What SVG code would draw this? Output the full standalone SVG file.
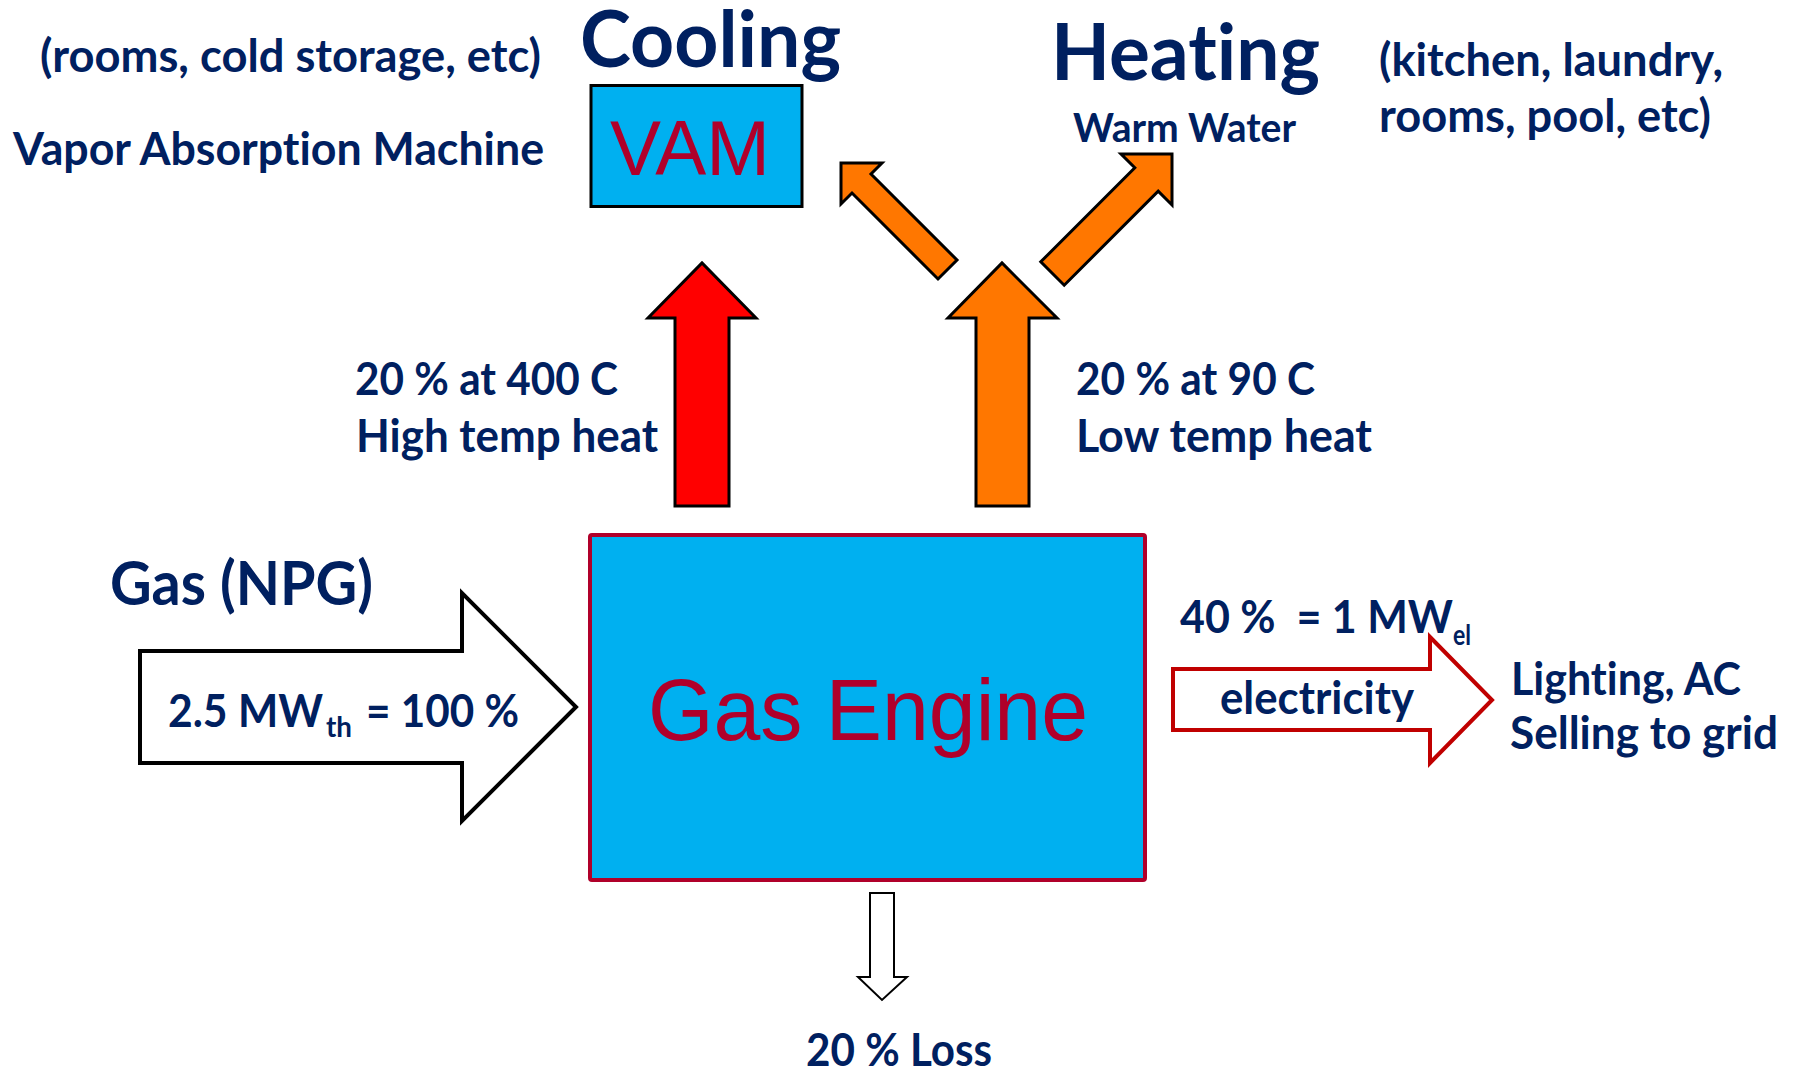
<svg xmlns="http://www.w3.org/2000/svg" width="1796" height="1072" viewBox="0 0 1796 1072">
<style>
.t{font-family:Lato,"Open Sans","Liberation Sans",sans-serif;font-weight:700;fill:#002060;font-variant-ligatures:none;font-feature-settings:"liga" 0,"clig" 0;}
.m{font-size:46px;}
.big{font-size:79px;}
.sub{font-size:29px;}
.red{font-family:"Liberation Sans",Arial,sans-serif;fill:#B0002A;}
.arr{stroke:#000;stroke-width:3;stroke-linejoin:miter;}
</style>
<rect width="1796" height="1072" fill="#fff"/>
<g id="connectors">
  <polygon id="high-temp-arrow" class="arr" fill="#FF0000" points="675,506 675,318 648,318 702,263 756,318 729,318 729,506"/>
  <polygon id="low-temp-arrow" class="arr" fill="#FF7700" points="976,506 976,318 948,318 1002,263 1057,318 1029,318 1029,506"/>
  <polygon id="to-cooling-arrow" class="arr" fill="#FF7700" points="841,163 882,163 871,174 957,260 938,279 852,193 841,204"/>
  <polygon id="to-heating-arrow" class="arr" fill="#FF7700" points="1172,154 1121,154 1134.8,167.8 1040.8,261.8 1064.2,285.2 1158.2,191.2 1172,205"/>
  <polygon id="gas-arrow" fill="#fff" stroke="#000" stroke-width="4" points="140,651 462,651 462,593 576,707 462,821 462,763 140,763"/>
  <polygon id="electricity-arrow" fill="#fff" stroke="#C00000" stroke-width="4" points="1173,669 1430,669 1430,637 1492,700 1430,763 1430,730 1173,730"/>
  <polygon id="loss-arrow" fill="#fff" stroke="#000" stroke-width="2" points="870,893 894,893 894,977 907,977 882,1000 858,977 870,977"/>
</g>
<g id="engine">
  <rect x="590" y="535" width="555" height="345" rx="2" fill="#00B0F0" stroke="#B0002A" stroke-width="4"/>
  <text class="red" x="648" y="740" font-size="87" textLength="440" lengthAdjust="spacingAndGlyphs">Gas Engine</text>
</g>
<g id="vam">
  <rect x="591" y="85.5" width="211" height="121" fill="#00B0F0" stroke="#000" stroke-width="3"/>
  <text class="red" x="610" y="175" font-size="77" textLength="160" lengthAdjust="spacingAndGlyphs">VAM</text>
</g>
<g id="cooling-labels">
  <text class="t big" x="580" y="67" textLength="261" lengthAdjust="spacingAndGlyphs">Cooling</text>
  <text class="t m" x="40" y="72" textLength="501" lengthAdjust="spacingAndGlyphs">(rooms, cold storage, etc)</text>
  <text class="t m" x="13" y="165" textLength="531" lengthAdjust="spacingAndGlyphs">Vapor Absorption Machine</text>
</g>
<g id="heating-labels">
  <text class="t big" x="1051" y="80" textLength="269" lengthAdjust="spacingAndGlyphs">Heating</text>
  <text class="t" x="1073" y="142" font-size="40" textLength="223" lengthAdjust="spacingAndGlyphs">Warm Water</text>
  <text class="t m" x="1379" y="76" textLength="344" lengthAdjust="spacingAndGlyphs">(kitchen, laundry,</text>
  <text class="t m" x="1379" y="132" textLength="332" lengthAdjust="spacingAndGlyphs">rooms, pool, etc)</text>
</g>
<g id="high-temp-label">
  <text class="t m" x="355" y="395" textLength="263" lengthAdjust="spacingAndGlyphs">20 % at 400 C</text>
  <text class="t m" x="356" y="452" textLength="302" lengthAdjust="spacingAndGlyphs">High temp heat</text>
</g>
<g id="low-temp-label">
  <text class="t m" x="1076" y="395" textLength="239" lengthAdjust="spacingAndGlyphs">20 % at 90 C</text>
  <text class="t m" x="1076" y="452" textLength="296" lengthAdjust="spacingAndGlyphs">Low temp heat</text>
</g>
<g id="gas-input">
  <text class="t" x="110" y="605" font-size="62" textLength="263" lengthAdjust="spacingAndGlyphs">Gas (NPG)</text>
  <text class="t m" x="168" y="727" textLength="155" lengthAdjust="spacingAndGlyphs">2.5 MW</text>
  <text class="t sub" x="326" y="737" textLength="26" lengthAdjust="spacingAndGlyphs">th</text>
  <text class="t m" x="366" y="727" textLength="153" lengthAdjust="spacingAndGlyphs">= 100 %</text>
</g>
<g id="electricity-output">
  <text class="t m" x="1180" y="633" textLength="273" lengthAdjust="spacingAndGlyphs" xml:space="preserve">40 %  = 1 MW</text>
  <text class="t sub" x="1453" y="645" textLength="18" lengthAdjust="spacingAndGlyphs">el</text>
  <text class="t m" x="1220" y="714" textLength="194" lengthAdjust="spacingAndGlyphs">electricity</text>
  <text class="t m" x="1511" y="695" textLength="230" lengthAdjust="spacingAndGlyphs">Lighting, AC</text>
  <text class="t m" x="1510" y="749" textLength="268" lengthAdjust="spacingAndGlyphs">Selling to grid</text>
</g>
<g id="loss">
  <text class="t m" x="806" y="1066" textLength="186" lengthAdjust="spacingAndGlyphs">20 % Loss</text>
</g>
</svg>
